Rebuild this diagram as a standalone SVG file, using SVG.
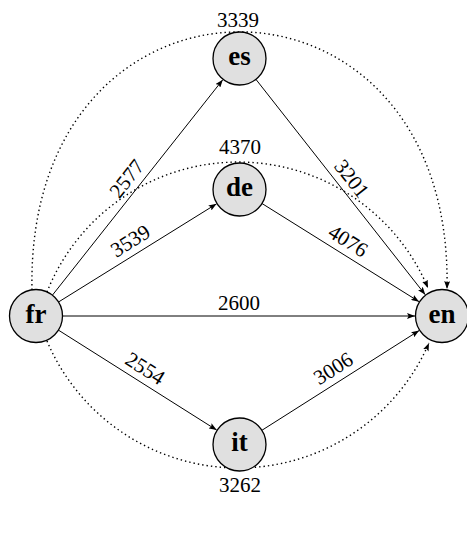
<svg xmlns="http://www.w3.org/2000/svg" width="467" height="538" viewBox="0 0 467 538">
<defs>
<marker id="arr" viewBox="0 0 8 6" refX="8" refY="3" markerWidth="8" markerHeight="6" orient="auto" markerUnits="userSpaceOnUse">
<path d="M0,0 L8,3 L0,6 L1.6,3 z" fill="#000"/>
</marker>
<style>
.node circle{fill:#e0e0e0;stroke:#000;stroke-width:1.3}
.node text{font-family:"Liberation Serif","Times New Roman",serif;font-weight:bold;font-size:27px;text-anchor:middle;fill:#000}
.edge{stroke:#000;stroke-width:1;fill:none;marker-end:url(#arr)}
.dot{stroke:#000;stroke-width:1.4;fill:none;stroke-dasharray:1.4 3;marker-end:url(#arr)}
.lbl{font-family:"Liberation Serif","Times New Roman",serif;font-size:21px;text-anchor:middle;fill:#000}
</style>
</defs>
<rect width="467" height="538" fill="#fff"/>
<g id="connectors">
<path class="dot" d="M32,290 C25,-54 454,-54 447,289"/>
<path class="dot" d="M47,292 A205.8,205.8 0 0 1 428,288"/>
<path class="dot" d="M47,341 A207.8,207.8 0 0 0 429,343"/>
<line class="edge" x1="52.4" y1="295.2" x2="222.8" y2="79.7"/>
<line class="edge" x1="58.5" y1="302" x2="216.6" y2="203.8"/>
<line class="edge" x1="62.5" y1="316" x2="415" y2="316"/>
<line class="edge" x1="58.4" y1="330.1" x2="216.7" y2="430.1"/>
<line class="edge" x1="255.9" y1="79.3" x2="425.3" y2="294.8"/>
<line class="edge" x1="262" y1="203.5" x2="419.1" y2="301.7"/>
<line class="edge" x1="261.9" y1="430.3" x2="419.2" y2="330.5"/>
<text class="lbl" transform="translate(137.75,187.25) rotate(-51.68)" x="0" y="-7">2577</text>
<text class="lbl" transform="translate(137.75,252.75) rotate(-31.86)" x="0" y="-7">3539</text>
<text class="lbl" x="239" y="310">2600</text>
<text class="lbl" transform="translate(137.75,380.25) rotate(32.27)" x="0" y="-7">2554</text>
<text class="lbl" transform="translate(340.75,187.25) rotate(51.82)" x="0" y="-7">3201</text>
<text class="lbl" transform="translate(340.75,252.75) rotate(32)" x="0" y="-7">4076</text>
<text class="lbl" transform="translate(340.75,380.25) rotate(-32.39)" x="0" y="-7">3006</text>
<text class="lbl" x="238" y="27">3339</text>
<text class="lbl" x="240" y="154">4370</text>
<text class="lbl" x="240" y="492">3262</text>
</g>
<g id="fr" class="node"><circle cx="36" cy="316" r="26.5"/><text x="36" y="322.5">fr</text></g>
<g id="en" class="node"><circle cx="442" cy="316" r="26.5"/><text x="442" y="322.5">en</text></g>
<g id="es" class="node"><circle cx="239.5" cy="58.5" r="26.5"/><text x="239.5" y="65">es</text></g>
<g id="de" class="node"><circle cx="239.5" cy="189.5" r="26.5"/><text x="239.5" y="196">de</text></g>
<g id="it" class="node"><circle cx="239.5" cy="444.5" r="26.5"/><text x="239.5" y="451">it</text></g>
</svg>
